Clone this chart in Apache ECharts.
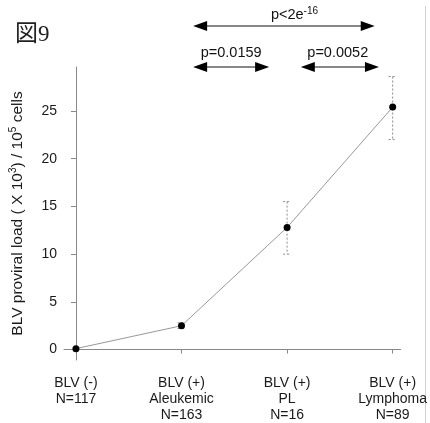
<!DOCTYPE html>
<html>
<head>
<meta charset="utf-8">
<script src="https://cdn.jsdelivr.net/npm/echarts@6/dist/echarts.min.js"></script>
<style>
  html, body { margin: 0; padding: 0; background: #fff; }
  #chart { width: 430px; height: 423px; }
</style>
</head>
<body>
<div id="chart"></div>
<script>
// groups on the x axis (0..3)
const groupLabels = ['BLV (-)\nN=117', 'BLV (+)\nAleukemic\nN=163', 'BLV (+)\nPL\nN=16', 'BLV (+)\nLymphoma\nN=89']
const groupPos = [0, 1, 2, 3]
// mean proviral load (x 10^3 / 10^5 cells)
const meanLoad = [0.1, 2.5, 12.8, 25.4]
const lowerLoad = [null, 2.2, 10.0, 22.0]
const upperLoad = [null, 2.8, 15.5, 28.6]
const yTicks = [0, 5, 10, 15, 20, 25]
// comparison arrows (in x-axis units)
const compFrom = [1.11, 1.11, 2.13]
const compTo = [2.83, 1.83, 2.87]
const compLabelX = [2.07, 1.47, 2.48]
const compLabels = ['{n|p<2e}{s|-16}', '{n|p=0.0159}', '{n|p=0.0052}']
const compRow = [0, 1, 1]

const FONT = '"Liberation Sans", Arial, sans-serif'
const chart = echarts.init(document.getElementById('chart'))

const errData = groupPos.map((x, i) => [x, lowerLoad[i], upperLoad[i]]).filter(d => d[1] != null)

const option = {
  animation: false,
  backgroundColor: '#fff',
  title: {
    text: '図9',
    left: 10,
    top: 18,
    textStyle: { fontFamily: '"Liberation Serif", "Noto Sans CJK JP", serif', fontSize: 23, fontWeight: 'normal', color: '#222' }
  },
  grid: { left: 62, right: 21, top: 67, bottom: 61 },
  xAxis: {
    type: 'value',
    min: -0.113,
    max: 3.076,
    splitLine: { show: false },
    axisLine: { lineStyle: { color: '#888', width: 1 } },
    axisTick: { customValues: groupPos, length: 4, lineStyle: { color: '#888' } },
    axisLabel: {
      customValues: groupPos,
      margin: 15,
      color: '#1a1a1a',
      fontFamily: FONT,
      fontSize: 14,
      lineHeight: 16,
      formatter: v => groupLabels[Math.round(v)]
    }
  },
  yAxis: {
    type: 'value',
    min: -1.09,
    max: 29.6,
    splitLine: { show: false },
    axisLine: { show: true, lineStyle: { color: '#888', width: 1 } },
    axisTick: { show: true, customValues: yTicks, length: 5, lineStyle: { color: '#888' } },
    axisLabel: { customValues: yTicks, margin: 7, color: '#1a1a1a', fontFamily: FONT, fontSize: 14 },
    name: '{n|BLV proviral load ( X 10}{s|3}{n|) / 10}{s|5}{n| cells}',
    nameLocation: 'middle',
    nameGap: 37,
    nameTextStyle: {
      rich: {
        n: { fontFamily: FONT, fontSize: 15.5, color: '#1a1a1a', lineHeight: 19 },
        s: { fontFamily: FONT, fontSize: 10, color: '#1a1a1a', lineHeight: 10, verticalAlign: 'top' }
      }
    }
  },
  series: [
    {
      type: 'custom',
      z: 1,
      data: errData,
      renderItem: (params, api) => {
        const top = api.coord([api.value(0), api.value(2)])
        const bot = api.coord([api.value(0), api.value(1)])
        const style = { stroke: '#8a8a8a', lineWidth: 1, lineDash: [2, 2] }
        const cap = 4
        return {
          type: 'group',
          children: [
            { type: 'line', shape: { x1: top[0], y1: top[1], x2: bot[0], y2: bot[1] }, style },
            { type: 'line', shape: { x1: top[0] - cap, y1: top[1], x2: top[0] + cap, y2: top[1] }, style },
            { type: 'line', shape: { x1: bot[0] - cap, y1: bot[1], x2: bot[0] + cap, y2: bot[1] }, style }
          ]
        }
      }
    },
    {
      type: 'line',
      z: 2,
      data: groupPos.map((x, i) => [x, meanLoad[i]]),
      symbol: 'circle',
      symbolSize: 7,
      showSymbol: true,
      itemStyle: { color: '#000' },
      lineStyle: { color: '#999', width: 1 }
    }
  ]
}

chart.setOption(option)

// comparison arrows above the plot
const rowY = [26, 67]
const labelY = [15, 53]
const graphics = []
compFrom.forEach((from, i) => {
  const x1 = chart.convertToPixel({ xAxisIndex: 0 }, from)
  const x2 = chart.convertToPixel({ xAxisIndex: 0 }, compTo[i])
  const y = rowY[compRow[i]]
  const hl = 14, hw = 5
  graphics.push(
    { type: 'line', shape: { x1: x1 + hl - 1, y1: y, x2: x2 - hl + 1, y2: y }, style: { stroke: '#111', lineWidth: 1 } },
    { type: 'polygon', shape: { points: [[x1, y], [x1 + hl, y - hw], [x1 + hl, y + hw]] }, style: { fill: '#000' } },
    { type: 'polygon', shape: { points: [[x2, y], [x2 - hl, y - hw], [x2 - hl, y + hw]] }, style: { fill: '#000' } },
    {
      type: 'text',
      x: chart.convertToPixel({ xAxisIndex: 0 }, compLabelX[i]),
      y: labelY[compRow[i]],
      style: {
        text: compLabels[i],
        align: 'center',
        verticalAlign: 'middle',
        rich: {
          n: { fontFamily: FONT, fontSize: 14.5, fill: '#111', lineHeight: 18 },
          s: { fontFamily: FONT, fontSize: 10, fill: '#111', lineHeight: 10, verticalAlign: 'top' }
        }
      }
    }
  )
})
// page border line on the right
graphics.push({ type: 'line', shape: { x1: 425.5, y1: 6, x2: 425.5, y2: 423 }, style: { stroke: '#d0d0d0', lineWidth: 1 } })

chart.setOption({ graphic: graphics })
</script>
</body>
</html>
